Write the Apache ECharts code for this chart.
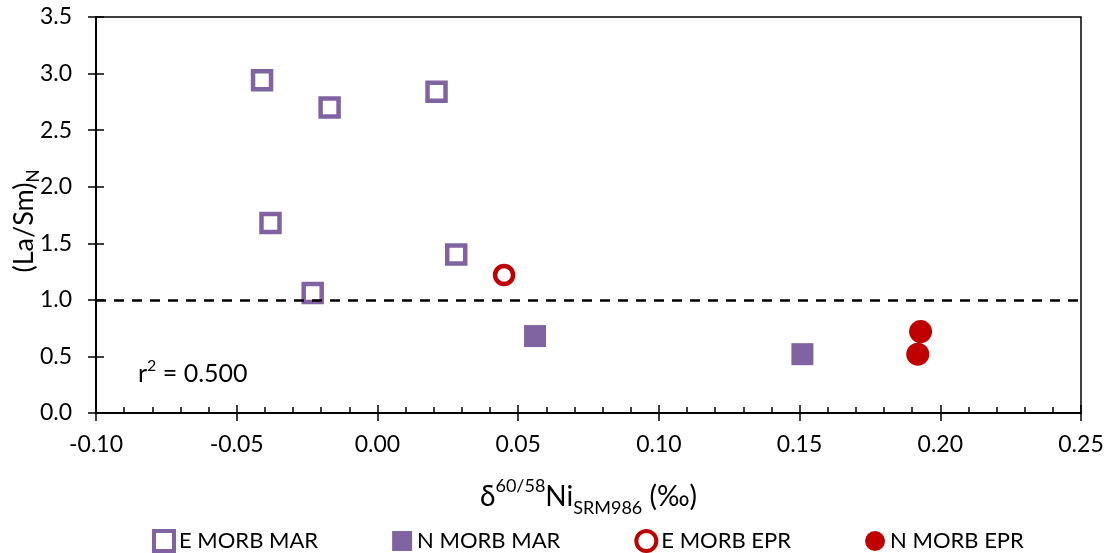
<!DOCTYPE html>
<html>
<head>
<meta charset="utf-8">
<script src="https://cdn.jsdelivr.net/npm/echarts@6/dist/echarts.min.js"></script>
<style>
  html, body { margin: 0; padding: 0; background: #fff; }
  #chart { width: 1110px; height: 553px; }
</style>
</head>
<body>
<div id="chart"></div>
<script>
// Ni isotope composition vs. (La/Sm)N for MORB glasses
const eMorbMar = [[-0.041, 2.94], [-0.017, 2.70], [0.021, 2.84], [-0.038, 1.68], [0.028, 1.40], [-0.023, 1.06]];
const nMorbMar = [[0.056, 0.68], [0.151, 0.52]];
const eMorbEpr = [[0.045, 1.22]];
const nMorbEpr = [[0.193, 0.72], [0.192, 0.52]];
const seriesNames = ['E MORB MAR', 'N MORB MAR', 'E MORB EPR', 'N MORB EPR'];
const chondriteRef = 1.0;
const rSquared = '0.500';
const xRange = { min: -0.10, max: 0.25, step: 0.05 };
const yRange = { min: 0, max: 3.5, step: 0.5 };

const PURPLE = '#8064A2';
const RED = '#C00000';
const FONT = 'Lato';

const chart = echarts.init(document.getElementById('chart'), null, { renderer: 'canvas' });

const baseX = {
  type: 'value', gridIndex: 0, position: 'bottom',
  min: xRange.min, max: xRange.max, interval: xRange.step,
  splitLine: { show: false }
};
const baseY = {
  type: 'value', gridIndex: 0, position: 'left',
  min: yRange.min, max: yRange.max, interval: yRange.step,
  splitLine: { show: false }
};

chart.setOption({
  animation: false,
  textStyle: { fontFamily: FONT, color: '#000' },
  grid: {
    left: 96, right: 29, top: 17, bottom: 140,
    containLabel: false, outerBoundsMode: 'none',
    show: true, borderColor: '#000', borderWidth: 1.5, backgroundColor: 'transparent'
  },
  xAxis: [
    Object.assign({}, baseX, {
      axisLine: { show: true, onZero: false, lineStyle: { color: '#000', width: 2 } },
      axisTick: { show: true, inside: true, length: 8, lineStyle: { color: '#000', width: 1.5 } },
      minorTick: { show: true, splitNumber: 5, length: 6, lineStyle: { color: '#000', width: 1.5 } },
      axisLabel: {
        margin: 20, fontSize: 23, fontFamily: FONT, color: '#000',
        formatter: v => v.toFixed(2)
      },
      name: '{m|δ}{sup|60/58}{m|Ni}{sub|SRM986}{m| (‰)}',
      nameLocation: 'middle',
      nameGap: 64,
      nameMoveOverlap: false,
      nameTextStyle: {
        rich: {
          m: { fontSize: 28, fontFamily: FONT, color: '#000', lineHeight: 40 },
          sup: { fontSize: 18, fontFamily: FONT, color: '#000', verticalAlign: 'top', lineHeight: 22 },
          sub: { fontSize: 18, fontFamily: FONT, color: '#000', verticalAlign: 'bottom', lineHeight: 22 }
        }
      }
    }),
    Object.assign({}, baseX, {
      axisLine: { show: false, onZero: false },
      axisTick: { show: true, inside: false, length: 8, lineStyle: { color: '#000', width: 1.5 } },
      axisLabel: { show: false }
    })
  ],
  yAxis: [
    Object.assign({}, baseY, {
      axisLine: { show: true, onZero: false, lineStyle: { color: '#000', width: 2 } },
      axisTick: { show: true, inside: true, length: 8, lineStyle: { color: '#000', width: 1.5 } },
      axisLabel: {
        margin: 24, fontSize: 23, fontFamily: FONT, color: '#000',
        formatter: v => v.toFixed(1)
      },
      name: '{m|(La/Sm)}{sub|N}',
      nameLocation: 'middle',
      nameGap: 54,
      nameMoveOverlap: false,
      nameTextStyle: {
        padding: [0, 12, 0, 0],
        rich: {
          m: { fontSize: 27, fontFamily: FONT, color: '#000', lineHeight: 36 },
          sub: { fontSize: 17, fontFamily: FONT, color: '#000', verticalAlign: 'bottom', lineHeight: 20 }
        }
      }
    }),
    Object.assign({}, baseY, {
      axisLine: { show: false, onZero: false },
      axisTick: { show: true, inside: false, length: 8, lineStyle: { color: '#000', width: 1.5 } },
      axisLabel: { show: false }
    })
  ],
  legend: {
    left: 152, top: 529, padding: 0,
    itemGap: 74, itemWidth: 20, itemHeight: 20,
    textStyle: { fontSize: 22, fontFamily: FONT, color: '#000' },
    data: [
      { name: seriesNames[0], icon: 'rect', itemStyle: { color: '#fff', borderColor: PURPLE, borderWidth: 4 } },
      { name: seriesNames[1], icon: 'rect', itemStyle: { color: PURPLE, borderWidth: 0 } },
      { name: seriesNames[2], icon: 'circle', itemStyle: { color: '#fff', borderColor: RED, borderWidth: 4 } },
      { name: seriesNames[3], icon: 'circle', itemStyle: { color: RED, borderWidth: 0 } }
    ]
  },
  graphic: [{
    type: 'text', left: 138, top: 358,
    style: {
      text: '{m|r}{sup|2}{m| = ' + rSquared + '}',
      rich: {
        m: { fontSize: 25, fontFamily: FONT, fill: '#000', lineHeight: 32 },
        sup: { fontSize: 16, fontFamily: FONT, fill: '#000', verticalAlign: 'top', lineHeight: 20 }
      }
    }
  }],
  series: [
    {
      name: seriesNames[0], type: 'scatter', data: eMorbMar,
      symbol: 'rect', symbolSize: 18,
      itemStyle: { color: '#fff', borderColor: PURPLE, borderWidth: 4.5, opacity: 1 },
      markLine: {
        silent: true, symbol: 'none', label: { show: false },
        lineStyle: { color: '#000', width: 2.5, type: [10, 8] },
        data: [{ yAxis: chondriteRef }]
      },
      z: 3
    },
    {
      name: seriesNames[1], type: 'scatter', data: nMorbMar,
      symbol: 'rect', symbolSize: 22,
      itemStyle: { color: PURPLE, opacity: 1 },
      z: 3
    },
    {
      name: seriesNames[2], type: 'scatter', data: eMorbEpr,
      symbol: 'circle', symbolSize: 18,
      itemStyle: { color: '#fff', borderColor: RED, borderWidth: 4.5, opacity: 1 },
      z: 3
    },
    {
      name: seriesNames[3], type: 'scatter', data: nMorbEpr,
      symbol: 'circle', symbolSize: 23,
      itemStyle: { color: RED, opacity: 1 },
      z: 3
    }
  ]
});
</script>
</body>
</html>
